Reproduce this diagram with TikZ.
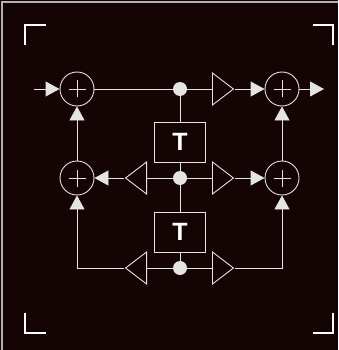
\documentclass[tikz,border=0pt]{standalone}
\usepackage{fontspec}
\setsansfont{Liberation Sans}
\usetikzlibrary{arrows.meta,shapes.geometric}
\definecolor{bg}{RGB}{20,4,4}
\definecolor{wire}{RGB}{228,228,228}
\begin{document}
\begin{tikzpicture}[x=1pt,y=-1pt,line width=0.9pt,color=wire,
  adder/.style={circle,draw,minimum size=34pt,inner sep=0pt,
    path picture={\draw ([xshift=-8.5pt]path picture bounding box.center) -- ([xshift=8.5pt]path picture bounding box.center)
      ([yshift=-8.5pt]path picture bounding box.center) -- ([yshift=8.5pt]path picture bounding box.center);}},
  amp/.style={isosceles triangle,isosceles triangle stretches,draw,inner sep=0pt,
    minimum width=32pt,minimum height=21pt,anchor=lower side},
  ampL/.style={amp,shape border rotate=180},
  dot/.style={circle,fill,minimum size=14pt,inner sep=0pt},
  delay/.style={draw,minimum width=51pt,minimum height=40pt,inner sep=0pt,text=white,
    font=\sffamily\bfseries\fontsize{25}{25}\selectfont},
  flow/.style={-{Triangle[length=14pt,width=15pt]}}]
\useasboundingbox (0,0) rectangle (338,350);
\fill[bg] (0,0) rectangle (338,350);
\draw[line width=1.5pt,gray!60!white] (2,350) -- (2,2) -- (338,2);
% corner marks
\draw[white,line width=2pt] (46,25) -- (25,25) -- (25,45);
\draw[white,line width=2pt] (313,25) -- (333,25) -- (333,45);
\draw[white,line width=2pt] (46,333) -- (25,333) -- (25,313);
\draw[white,line width=2pt] (313,333) -- (333,333) -- (333,313);

\node[adder] (add1) at (77,89) {};
\node[adder] (add2) at (77,178) {};
\node[adder] (add3) at (282,89) {};
\node[adder] (add4) at (282,178) {};
\node[dot] (d1) at (180,89) {};
\node[dot] (d2) at (180,178) {};
\node[dot] (d3) at (180,268) {};
\node[delay] (t1) at (180,142) {T};
\node[delay] (t2) at (180,232) {T};
\node[amp] (g1) at (212,89) {};
\node[ampL] (g2) at (147,178) {};
\node[amp] (g3) at (212,178) {};
\node[ampL] (g4) at (147,268) {};
\node[amp] (g5) at (212,268) {};
\coordinate (in) at (34,89);
\coordinate (out) at (324,89);

\draw[flow] (in) -- (add1);
\draw (add1) -- (d1) -- (g1);
\draw[flow] (g1) -- (add3);
\draw[flow] (add3) -- (out);
\draw[flow] (add2) -- (add1);
\draw[flow] (add4) -- (add3);
\draw[flow] (g2) -- (add2);
\draw (g2) -- (d2) -- (g3);
\draw[flow] (g3) -- (add4);
\draw (d1) -- (t1) -- (d2) -- (t2) -- (d3);
\draw (g4) -- (d3) -- (g5);
\draw[flow] (g4) -| (add2);
\draw[flow] (g5) -| (add4);
\end{tikzpicture}
\end{document}
